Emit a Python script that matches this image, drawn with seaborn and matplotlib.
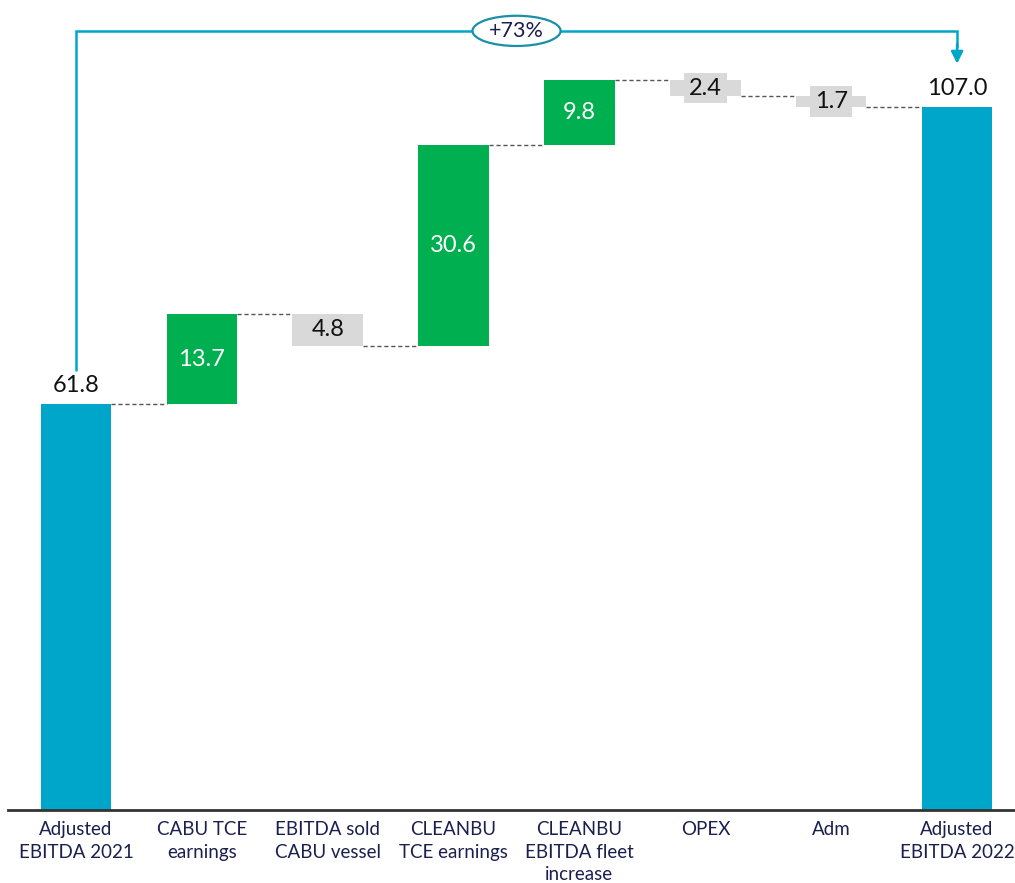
import numpy as np
import pandas as pd
import matplotlib
matplotlib.use("Agg")
import matplotlib.pyplot as plt
from matplotlib.patches import Ellipse
import seaborn as sns

categories = ["Adjusted\nEBITDA 2021", "CABU TCE\nearnings", "EBITDA sold\nCABU vessel",
              "CLEANBU\nTCE earnings", "CLEANBU\nEBITDA fleet\nincrease", "OPEX", "Adm",
              "Adjusted\nEBITDA 2022"]
values = [61.8, 13.7, -4.8, 30.6, 9.8, -2.4, -1.7, 107.0]
labels = ["61.8", "13.7", "4.8", "30.6", "9.8", "2.4", "1.7", "107.0"]
change_label = "+73%"

TEAL = "#00A6C9"
GREEN = "#00B050"
GREY = "#D9D9D9"

sns.set_theme(style="white")
plt.rcParams["font.family"] = ["Lato", "DejaVu Sans"]

# waterfall geometry: total bars start at zero, steps float on the running level
n = len(values)
bottoms, heights, kinds = [], [], []
level = 0.0
for i, v in enumerate(values):
    if i == 0 or i == n - 1:
        bottoms.append(0.0)
        heights.append(v)
        kinds.append("total")
        level = v
    else:
        new = level + v
        bottoms.append(min(level, new))
        heights.append(abs(v))
        kinds.append("up" if v > 0 else "down")
        level = new
tops = [b + h for b, h in zip(bottoms, heights)]

color_map = {"total": TEAL, "up": GREEN, "down": GREY}
df = pd.DataFrame({"cat": categories, "height": heights, "kind": kinds})

fig = plt.figure(figsize=(10.15, 8.83), dpi=100)
ax = fig.add_axes([8 / 1015, 73 / 883, 1 - 8 / 1015, 1 - 73 / 883])

sns.barplot(data=df, x="cat", y="height", hue="kind", palette=color_map,
            dodge=False, width=0.56, legend=False, ax=ax, saturation=1)

# lift each floating bar onto its running level
for patch in ax.patches:
    xc = patch.get_x() + patch.get_width() / 2
    i = int(round(xc))
    patch.set_y(bottoms[i])
    patch.set_linewidth(0)

half = 0.28
# dashed connectors between consecutive bars
level = values[0]
for i in range(n - 1):
    ax.plot([i + half, i + 1 - half], [level, level], ls=(0, (3, 2)),
            color="#555555", lw=1.0, zorder=1)
    if i + 1 < n - 1:
        level = level + values[i + 1]

# value labels
for i in range(n):
    if kinds[i] == "total":
        ax.text(i, tops[i] + 1.2, labels[i], ha="center", va="bottom",
                fontsize=17, color="#111111")
    elif kinds[i] == "up":
        ax.text(i, bottoms[i] + heights[i] / 2, labels[i], ha="center", va="center",
                fontsize=17, color="white")
    else:
        ax.text(i, bottoms[i] + heights[i] / 2, labels[i], ha="center", va="center",
                fontsize=17, color="#111111",
                bbox=dict(boxstyle="square,pad=0.2", fc=GREY, ec="none"))

# growth bracket from first total to last total
y_top = 118.6
ax.plot([0, 0, n - 1, n - 1], [tops[0] + 5.2, y_top, y_top, y_top - 2.5],
        color=TEAL, lw=1.8, solid_joinstyle="miter", zorder=3)
ax.annotate("", xy=(n - 1, tops[-1] + 6.6), xytext=(n - 1, y_top - 2.0),
            arrowprops=dict(arrowstyle="-|>", color=TEAL, lw=1.8,
                            mutation_scale=18, shrinkA=0, shrinkB=0), zorder=3)
mid = 3.5
ax.add_patch(Ellipse((mid, y_top), width=0.70, height=4.6, fc="white",
                     ec="#1A8FA8", lw=1.6, zorder=4))
ax.text(mid, y_top, change_label, ha="center", va="center", fontsize=15.5,
        color="#1A1F4E", zorder=5)

ax.set_xlim(-0.54, 7.46)
ax.set_ylim(0, 123.3)
ax.set_xlabel("")
ax.set_ylabel("")
ax.set_yticks([])
ax.tick_params(axis="x", length=0, pad=8, labelsize=13.5, colors="#1A1F4E")
for lab in ax.get_xticklabels():
    lab.set_linespacing(1.4)
for side in ["top", "right", "left"]:
    ax.spines[side].set_visible(False)
ax.spines["bottom"].set_color("#333333")
ax.spines["bottom"].set_linewidth(2.0)

fig.savefig("out.png", dpi=100)
